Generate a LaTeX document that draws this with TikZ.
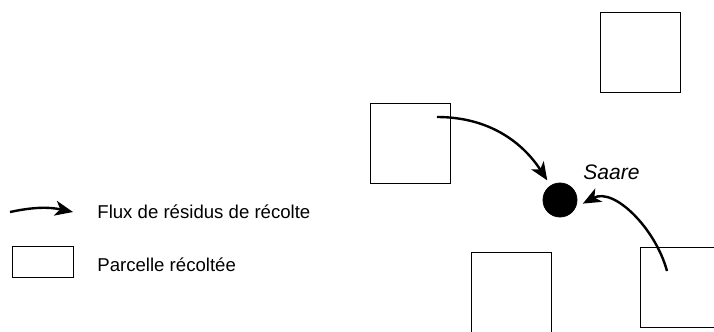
\documentclass[tikz,border=0pt]{standalone}
\usepackage{fontspec}
\setmainfont{Liberation Sans}
\usepackage{tikz}
\usetikzlibrary{arrows.meta,positioning,calc}
\tikzstyle{parcel} = [draw, rectangle, line width=0.5pt, minimum width=40pt, minimum height=40pt, inner sep=0pt]
\tikzstyle{site} = [draw, fill=black, circle, minimum size=17pt, inner sep=0pt]
\tikzstyle{flux} = [line width=1.2pt, -{Stealth[length=9pt,width=7.5pt,inset=2.5pt]}]
\tikzstyle{legend} = [anchor=west, inner sep=0pt, font=\fontsize{9.3}{11}\selectfont]

\begin{document}
\begin{tikzpicture}[x=0.5pt, y=0.5pt]
    \useasboundingbox (0,0) rectangle (714,-332);
    % Parcels
    \node [parcel] (p1) at (410,-143) {};
    \node [parcel] (p2) at (640,-52) {};
    \node [parcel] (p3) at (511.5,-292) {};
    \node [parcel] (p4) at (680,-287) {};
    % Storage site
    \node [site] (saare) at (560,-200) {};
    \node [legend, font=\fontsize{10.5}{12}\selectfont\itshape] (name) at (583,-172) {Saare};
    \coordinate (from1) at (437,-117);
    \coordinate (from2) at (667,-271);
    % Legend
    \coordinate (la) at (10,-212);
    \coordinate (lb) at (73,-212);
    \node [parcel, minimum width=30.5pt, minimum height=15.5pt] (lbox) at (42.5,-261.5) {};
    \node [legend] (ltext1) at (97,-212) {Flux de résidus de récolte};
    \node [legend] (ltext2) at (97,-265) {Parcelle récoltée};
    
    % Connections
    \draw [flux, shorten >=3pt] (from1) to [out=0, in=123] (saare);
    \draw [flux, shorten >=4pt] (from2) to [out=105, in=28] (saare.-25);
    \draw [flux] (la) to [bend left=12] (lb);
\end{tikzpicture}
\end{document}
